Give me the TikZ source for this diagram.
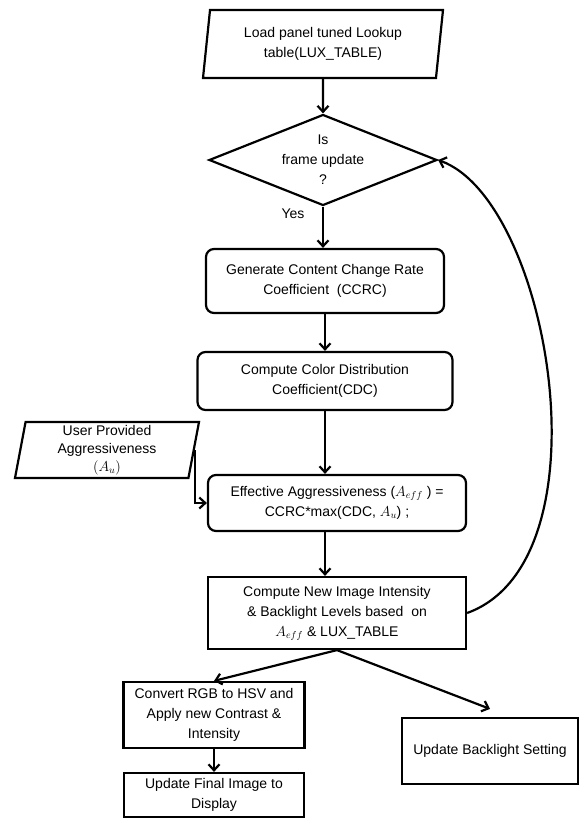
\documentclass[tikz,border=0pt]{standalone}
\usepackage{fontspec}
\setmainfont{Liberation Sans}
\usetikzlibrary{shapes.geometric,arrows.meta}

\tikzset{
  iobox/.style={trapezium, trapezium left angle=78, trapezium right angle=102,
    trapezium stretches body=true},
  procbox/.style={rectangle, rounded corners=8pt},
  plainbox/.style={rectangle},
  decbox/.style={diamond, aspect=2.5}
}

\begin{document}
\begin{tikzpicture}[x=1pt, y=-1pt, line width=2.2pt,
    >={Straight Barb[length=6pt,width=11pt]}]

        \useasboundingbox (0,0) rectangle (580,819);

        \begin{scope}[every node/.style={draw, align=center, inner sep=0pt,
            font=\fontsize{14}{20}\selectfont}]
          \node[iobox, minimum width=240pt, minimum height=68pt] (1) at (323,44)
            {Load panel tuned Lookup\\table(LUX\_TABLE)};
          \node[decbox, minimum width=228pt, minimum height=91pt] (2) at (323,160)
            {Is\\frame update\\?};
          \node[procbox, minimum width=238pt, minimum height=64pt] (3) at (325,281)
            {Generate Content Change Rate\\Coefficient\ \ (CCRC)};
          \node[procbox, minimum width=255pt, minimum height=58pt] (4) at (325,381)
            {Compute Color Distribution\\Coefficient(CDC)};
          \node[iobox, minimum width=184pt, minimum height=56pt,
            font=\fontsize{14}{18}\selectfont] (5) at (107,450)
            {User Provided\\Aggressiveness\\$(A_u)$};
          \node[procbox, minimum width=258pt, minimum height=56pt] (6) at (337,503)
            {Effective Aggressiveness ($A_{eff}$ ) =\\CCRC*max(CDC, $A_u$) ;};
          \node[plainbox, minimum width=258pt, minimum height=72pt] (7) at (337,613)
            {Compute New Image Intensity\\\& Backlight Levels based\ \ on\\$A_{eff}$ \& LUX\_TABLE};
          \node[plainbox, minimum width=181pt, minimum height=66pt] (8) at (214,715)
            {Convert RGB to HSV and\\Apply new Contrast \&\\Intensity};
          \node[plainbox, minimum width=180pt, minimum height=44pt] (9) at (214,795)
            {Update Final Image to\\Display};
          \node[plainbox, minimum width=176pt, minimum height=66pt] (10) at (490,751)
            {Update Backlight Setting};
        \end{scope}

        \node[font=\fontsize{14}{20}\selectfont] (yes) at (293,214) {Yes};

        \begin{scope}[every edge/.style={draw, ->}]
          \path (1)  edge (2);
          \path (2)  edge (2.south |- 3.north);
          \path (3)  edge (3.south |- 4.north);
          \path (4.south) edge (4.south |- 6.north);
          \path (4.south |- 6.south) edge (4.south |- 7.north);
          \path (7.south) edge (8.north);
          \path (7.south) edge ([yshift=8pt]10.north);
          \path (8.south) edge (9.north);
        \end{scope}

        \draw[->] (5.east) |- (6.west);
        \draw[->] (7.east) .. controls +(144,-52) and +(112,40) .. (2.east);

      \end{tikzpicture}
\end{document}
